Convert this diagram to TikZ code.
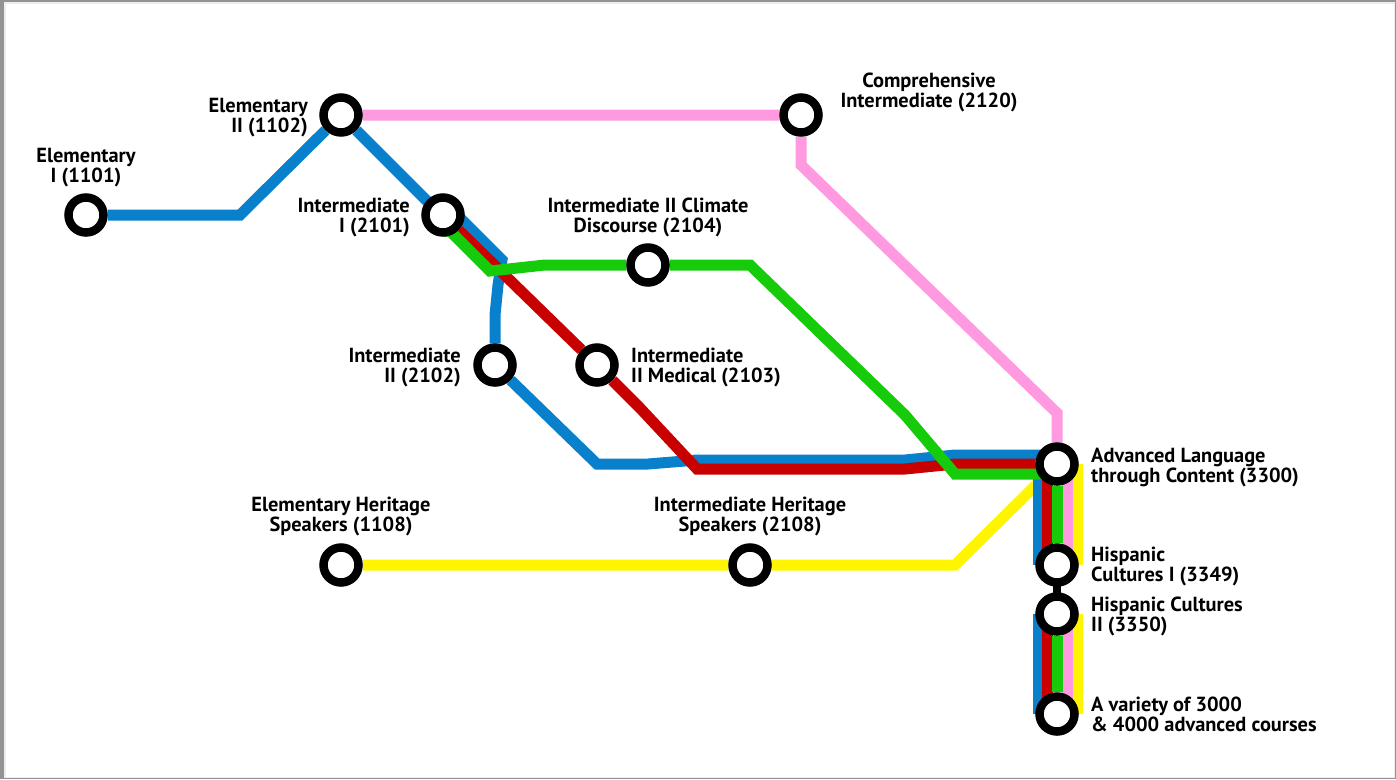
\documentclass[tikz,border=0pt]{standalone}
\usepackage{fontspec}
\setmainfont{PT Sans}
\usepackage{tikz}
\usetikzlibrary{backgrounds}

\definecolor{lineblue}{RGB}{8,128,204}
\definecolor{linered}{RGB}{200,0,0}
\definecolor{linegreen}{RGB}{22,204,10}
\definecolor{linepink}{RGB}{255,153,224}
\definecolor{lineyellow}{RGB}{255,245,0}

\tikzset{
  stop/.style={circle, draw=black, fill=white, line width=8.5pt, minimum size=35pt, inner sep=0pt},
  lab/.style={font=\fontsize{20.4}{20}\bfseries\selectfont, inner sep=0pt, text=black},
  metro/.style={line width=11pt}
}

\begin{document}
\begin{tikzpicture}[x=1pt, y=-1pt]
        \useasboundingbox (0,0) rectangle (1396,779);

        \node (e1101) at (86,215) [stop] {};
        \node (e1102) at (341,115) [stop] {};
        \node (c2120) at (801,115) [stop] {};
        \node (i2101) at (443,215) [stop] {};
        \node (i2104) at (648,265) [stop] {};
        \node (i2102) at (495,365) [stop] {};
        \node (i2103) at (597,365) [stop] {};
        \node (e1108) at (341,565) [stop] {};
        \node (i2108) at (750,565) [stop] {};
        \node (a3300) at (1057,464) [stop] {};
        \node (h3349) at (1057,565) [stop] {};
        \node (h3350) at (1057,614) [stop] {};
        \node (a3000) at (1057,714) [stop] {};

        % lines go under the stops
        \begin{scope}[on background layer]
        \fill [fill=gray!85] (0,0) rectangle (1396,779);
        \fill [fill=black!7] (4,2) rectangle (1395,778);
        \fill [fill=white] (6,4) rectangle (1394,777);
        \draw [metro, lineyellow] (e1108) -- (i2108) -- (955,565) -- (1038,483);
        \draw [metro, lineyellow] ([xshift=20pt]a3300.center) -- ([xshift=20pt]h3349.center);
        \draw [metro, lineyellow] ([xshift=20pt]h3350.center) -- ([xshift=20pt]a3000.center);
        \draw [metro, linepink] (e1102) -- (c2120) -- (801,165) -- (1057,413) -- (a3300);
        \draw [metro, linepink] ([xshift=10pt]a3300.center) -- ([xshift=10pt]h3349.center);
        \draw [metro, linepink] ([xshift=10pt]h3350.center) -- ([xshift=10pt]a3000.center);
        \draw [metro, lineblue] (e1101) -- (240,215) -- (e1102) -- (431,205) -- (449,207) -- (502,260) -- (498,285) -- (495,315) -- (i2102) -- (597,464) -- (648,464) -- (697,460) -- (905,460) -- (955,455) -- ([yshift=9pt]a3300.center);
        \draw [metro, lineblue] ([xshift=-19pt]a3300.center) -- ([xshift=-19pt]h3349.center);
        \draw [metro, lineblue] ([xshift=-19pt]h3350.center) -- ([xshift=-19pt]a3000.center);
        \draw [metro, linered] (i2101) -- (i2103) -- (640,408) -- (697,469) -- (905,469) -- (955,464) -- (a3300);
        \draw [metro, linered] ([xshift=-10pt]a3300.center) -- ([xshift=-10pt]h3349.center);
        \draw [metro, linered] ([xshift=-10pt]h3350.center) -- ([xshift=-10pt]a3000.center);
        \draw [metro, linegreen] (i2101) -- (448,229) -- (490,271) -- (545,265) -- (i2104) -- (750,265) -- (905,415) -- (955,474) -- ([yshift=-10pt]a3300.center);
        \draw [metro, linegreen] (a3300) -- (h3349);
        \draw [metro, linegreen] (h3350) -- (a3000);
        \draw [black, line width=8pt] (h3349.center) -- (h3350.center);
        \end{scope}

        \node (l1101) at (86,167.5) [lab, align=center] {Elementary\\I (1101)};
        \node (l1102) at (308,117.5) [lab, anchor=east, align=right] {Elementary\\II (1102)};
        \node (l2120) at (929,92.5) [lab, align=center] {Comprehensive\\Intermediate (2120)};
        \node (l2101) at (410,217.5) [lab, anchor=east, align=right] {Intermediate\\I (2101)};
        \node (l2104) at (648,217.5) [lab, align=center] {Intermediate II Climate\\Discourse (2104)};
        \node (l2102) at (461,367.5) [lab, anchor=east, align=right] {Intermediate\\II (2102)};
        \node (l2103) at (631,367.5) [lab, anchor=west, align=left] {Intermediate\\II Medical (2103)};
        \node (l1108) at (341,516.5) [lab, align=center] {Elementary Heritage\\Speakers (1108)};
        \node (l2108) at (750,516.5) [lab, align=center] {Intermediate Heritage\\Speakers (2108)};
        \node (l3300) at (1091,467.5) [lab, anchor=west, align=left] {Advanced Language\\through Content (3300)};
        \node (l3349) at (1091,566.5) [lab, anchor=west, align=left] {Hispanic\\Cultures I (3349)};
        \node (l3350) at (1091,616.5) [lab, anchor=west, align=left] {Hispanic Cultures\\II (3350)};
        \node (l3000) at (1091,714.5) [lab, anchor=west, align=left] {A variety of 3000\\\& 4000 advanced courses};
\end{tikzpicture}
\end{document}
